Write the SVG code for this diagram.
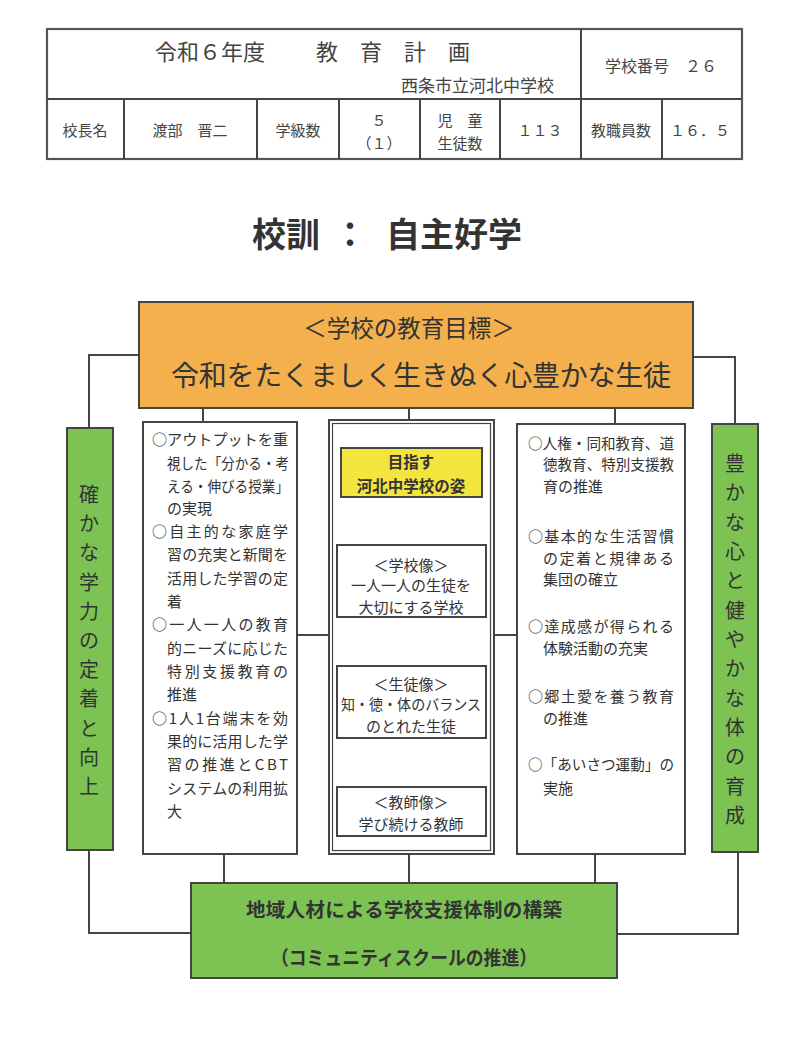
<svg xmlns="http://www.w3.org/2000/svg" width="794" height="1052" viewBox="0 0 794 1052">
<defs>
<style>
text{font-family:"Noto Sans CJK JP","Noto Sans CJK SC",sans-serif;fill:#333;dominant-baseline:central}
.hd{fill:#444}
.ln{stroke:#444;stroke-width:2;fill:none}
.box{fill:#fff;stroke:#444;stroke-width:2}
.org{fill:#F4B04D;stroke:#444;stroke-width:2}
.grn{fill:#7DC353;stroke:#444;stroke-width:2}
.yel{fill:#F3E43E;stroke:#444;stroke-width:2}
.t15{font-size:15px}
.c{text-anchor:middle}
</style>
</defs>
<rect width="794" height="1052" fill="#fff"/>

<g id="header">
<rect x="47" y="29" width="695" height="130" fill="#fff" stroke="#555" stroke-width="2.2"/>
<path class="ln" d="M47 99H742M581 29V159M124 99V159M257 99V159M339 99V159M420 99V159M500 99V159M662 99V159"/>
<text class="hd" x="155" y="50" font-size="22">令和６年度</text>
<text class="hd" x="316" y="50" font-size="22">教　育　計　画</text>
<text class="hd" x="401" y="84" font-size="17">西条市立河北中学校</text>
<text class="hd c" x="661" y="65" font-size="16">学校番号　２６</text>
<text class="hd c t15" x="85" y="129">校長名</text>
<text class="hd c t15" x="190" y="129">渡部　晋二</text>
<text class="hd c t15" x="298" y="129">学級数</text>
<text class="hd c t15" x="379" y="119">５</text>
<text class="hd c t15" x="379" y="142">（１）</text>
<text class="hd c t15" x="460" y="119">児　童</text>
<text class="hd c t15" x="460" y="142">生徒数</text>
<text class="hd c t15" x="540" y="129">１１３</text>
<text class="hd c t15" x="621" y="129">教職員数</text>
<text class="hd c t15" x="700" y="129">１６．５</text>
</g>

<g id="title">
<text x="252" y="232" font-size="34" font-weight="bold">校訓</text>
<text class="c" x="350" y="232" font-size="34" font-weight="bold">：</text>
<text x="386" y="232" font-size="34" font-weight="bold">自主好学</text>
</g>

<g id="connectors">
<path class="ln" d="M139 355H89V428M89 850V933H191M693 357H735V424M738 852V934H617"/>
<path class="ln" d="M203 408V421M409 408V420M615 408V424"/>
<path class="ln" d="M297 635H329M494 635H517"/>
<path class="ln" d="M224 854V883M409 854V883M595 854V883"/>
</g>

<g id="goal">
<rect class="org" x="139" y="302" width="554" height="106"/>
<text class="c" x="409" y="327" font-size="23.5">＜学校の教育目標＞</text>
<text class="c" x="421" y="374" font-size="28" textLength="500">令和をたくましく生きぬく心豊かな生徒</text>
</g>

<g id="left-green">
<rect class="grn" x="67" y="428" width="46" height="422"/>
<text class="c" font-size="20" fill="#333"><tspan x="89" y="493">確</tspan><tspan x="89" y="522">か</tspan><tspan x="89" y="551">な</tspan><tspan x="89" y="581">学</tspan><tspan x="89" y="610">力</tspan><tspan x="89" y="639">の</tspan><tspan x="89" y="668">定</tspan><tspan x="89" y="697">着</tspan><tspan x="89" y="727">と</tspan><tspan x="89" y="756">向</tspan><tspan x="89" y="785">上</tspan></text>
</g>

<g id="left-box">
<rect class="box" x="143" y="422" width="154" height="432"/>
<g class="t15">
<text x="152" y="438" textLength="136" lengthAdjust="spacingAndGlyphs">○アウトプットを重</text>
<text x="167" y="462" textLength="122" lengthAdjust="spacingAndGlyphs">視した「分かる・考</text>
<text x="167" y="485" textLength="122" lengthAdjust="spacingAndGlyphs">える・伸びる授業」</text>
<text x="167" y="507">の実現</text>
<text x="152" y="530" textLength="136">○自主的な家庭学</text>
<text x="167" y="553" textLength="121">習の充実と新聞を</text>
<text x="167" y="577" textLength="121">活用した学習の定</text>
<text x="167" y="600">着</text>
<text x="152" y="623" textLength="136">○一人一人の教育</text>
<text x="167" y="647" textLength="121">的ニーズに応じた</text>
<text x="167" y="670" textLength="121">特別支援教育の</text>
<text x="167" y="693">推進</text>
<text x="152" y="717" textLength="136">○1人1台端末を効</text>
<text x="167" y="740" textLength="121">果的に活用した学</text>
<text x="167" y="763" textLength="121">習の推進とCBT</text>
<text x="167" y="787" textLength="121">システムの利用拡</text>
<text x="167" y="810">大</text>
</g>
</g>

<g id="center-column">
<rect class="box" x="329" y="420" width="165" height="434"/>
<rect x="332.5" y="423.5" width="158" height="427" fill="none" stroke="#444" stroke-width="1.2"/>
</g>

<g id="aim">
<rect class="yel" x="341" y="448" width="141" height="49"/>
<text class="c" x="411" y="461" font-size="15.5" font-weight="bold">目指す</text>
<text class="c" x="411" y="485" font-size="15.5" font-weight="bold">河北中学校の姿</text>
</g>

<g id="school-image">
<rect class="box" x="337" y="545" width="149" height="72"/>
<text class="c t15" x="411" y="564">＜学校像＞</text>
<text class="c t15" x="411" y="584">一人一人の生徒を</text>
<text class="c t15" x="411" y="606">大切にする学校</text>
</g>

<g id="student-image">
<rect class="box" x="337" y="666" width="149" height="72"/>
<text class="c t15" x="411" y="683">＜生徒像＞</text>
<text class="c t15" x="411" y="703" textLength="140" lengthAdjust="spacingAndGlyphs">知・徳・体のバランス</text>
<text class="c t15" x="411" y="725">のとれた生徒</text>
</g>

<g id="teacher-image">
<rect class="box" x="337" y="787" width="149" height="49"/>
<text class="c t15" x="411" y="801">＜教師像＞</text>
<text class="c t15" x="411" y="823">学び続ける教師</text>
</g>

<g id="right-box">
<rect class="box" x="517" y="424" width="168" height="430"/>
<g class="t15">
<text x="528" y="442" textLength="146" lengthAdjust="spacingAndGlyphs">○人権・同和教育、道</text>
<text x="543" y="463" textLength="131" lengthAdjust="spacingAndGlyphs">徳教育、特別支援教</text>
<text x="543" y="485">育の推進</text>
<text x="528" y="535" textLength="146">○基本的な生活習慣</text>
<text x="543" y="557" textLength="131">の定着と規律ある</text>
<text x="543" y="578">集団の確立</text>
<text x="528" y="625" textLength="146">○達成感が得られる</text>
<text x="543" y="647">体験活動の充実</text>
<text x="528" y="695" textLength="146">○郷土愛を養う教育</text>
<text x="543" y="717">の推進</text>
<text x="528" y="763" textLength="146" lengthAdjust="spacingAndGlyphs">○「あいさつ運動」の</text>
<text x="543" y="787">実施</text>
</g>
</g>

<g id="right-green">
<rect class="grn" x="712" y="424" width="46" height="428"/>
<text class="c" font-size="20"><tspan x="735" y="462">豊</tspan><tspan x="735" y="491">か</tspan><tspan x="735" y="521">な</tspan><tspan x="735" y="550">心</tspan><tspan x="735" y="579">と</tspan><tspan x="735" y="609">健</tspan><tspan x="735" y="638">や</tspan><tspan x="735" y="667">か</tspan><tspan x="735" y="697">な</tspan><tspan x="735" y="726">体</tspan><tspan x="735" y="755">の</tspan><tspan x="735" y="785">育</tspan><tspan x="735" y="814">成</tspan></text>
</g>

<g id="community">
<rect class="grn" x="191" y="883" width="426" height="95"/>
<text class="c" x="404" y="908" font-size="19.5" font-weight="bold" textLength="316">地域人材による学校支援体制の構築</text>
<text class="c" x="404" y="956" font-size="19.5" font-weight="bold" textLength="266" lengthAdjust="spacingAndGlyphs">（コミュニティスクールの推進）</text>
</g>
</svg>
